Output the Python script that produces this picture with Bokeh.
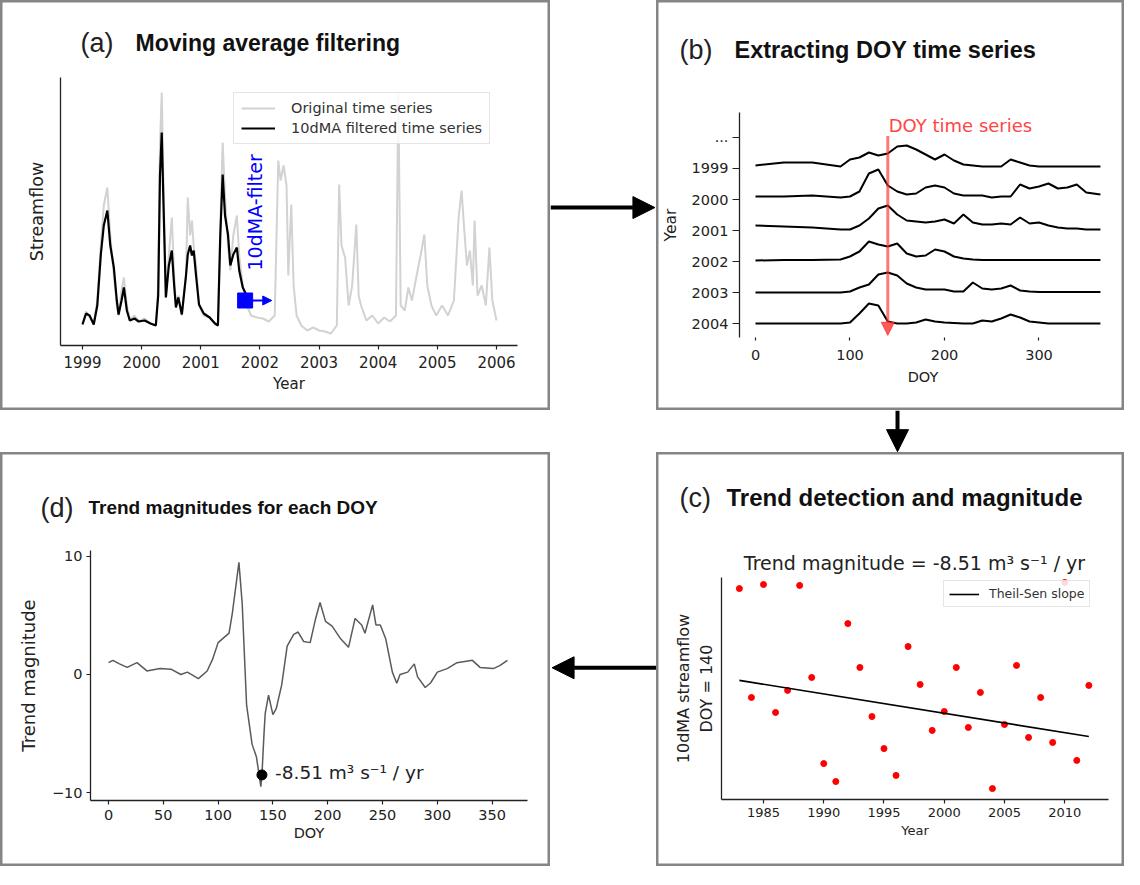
import math
from bokeh.plotting import figure
from bokeh.layouts import column, row
from bokeh.models import (Label, Arrow, NormalHead, Legend, LegendItem, FixedTicker, Spacer,
                          LinearAxis)
from bokeh.embed import file_html
from bokeh.resources import INLINE

# ---------------- data ----------------
# (a) streamflow time series (arbitrary units)
orig_year = [1999.00, 1999.06, 1999.12, 1999.19, 1999.25, 1999.31, 1999.36, 1999.42, 1999.47, 1999.53,
             1999.58, 1999.61, 1999.66, 1999.70, 1999.75, 1999.80, 1999.88, 1999.95, 2000.05, 2000.15,
             2000.24, 2000.28, 2000.31, 2000.34, 2000.37, 2000.41, 2000.46, 2000.51, 2000.55, 2000.58,
             2000.62, 2000.68, 2000.75, 2000.78, 2000.82, 2000.85, 2000.88, 2000.92, 2000.97, 2001.05,
             2001.15, 2001.24, 2001.29, 2001.33, 2001.37, 2001.41, 2001.46, 2001.50, 2001.55, 2001.61,
             2001.65, 2001.71, 2001.78, 2001.85, 2001.95, 2002.05, 2002.15, 2002.25, 2002.31, 2002.35,
             2002.40, 2002.45, 2002.48, 2002.53, 2002.57, 2002.62, 2002.70, 2002.80, 2002.90, 2003.00,
             2003.10, 2003.20, 2003.30, 2003.34, 2003.38, 2003.44, 2003.50, 2003.56, 2003.63, 2003.67,
             2003.71, 2003.80, 2003.90, 2004.00, 2004.10, 2004.20, 2004.30, 2004.34, 2004.38, 2004.45,
             2004.51, 2004.57, 2004.65, 2004.72, 2004.78, 2004.83, 2004.90, 2004.98, 2005.08, 2005.18,
             2005.28, 2005.36, 2005.41, 2005.45, 2005.50, 2005.55, 2005.60, 2005.63, 2005.68, 2005.75,
             2005.82, 2005.88, 2005.93, 2006.00]
orig_flow = [22, 34, 28, 22, 45, 100, 140, 158, 110, 70,
             40, 30, 55, 68, 40, 26, 30, 24, 27, 22,
             20, 60, 200, 253, 160, 48, 90, 128, 70, 40,
             50, 30, 70, 148, 110, 125, 100, 80, 40, 30,
             28, 22, 20, 120, 203, 150, 100, 75, 110, 130,
             90, 60, 40, 30, 28, 27, 24, 30, 185, 165,
             180, 160, 70, 141, 60, 30, 20, 15, 18, 15,
             14, 12, 20, 161, 100, 88, 40, 60, 121, 50,
             40, 25, 30, 22, 28, 24, 30, 253, 40, 35,
             58, 45, 70, 91, 111, 60, 40, 30, 40, 30,
             45, 128, 155, 120, 80, 95, 60, 125, 50, 60,
             40, 98, 45, 25]
filt_year = [1999.00, 1999.06, 1999.12, 1999.19, 1999.25, 1999.31, 1999.36, 1999.42, 1999.47, 1999.53,
             1999.58, 1999.61, 1999.66, 1999.70, 1999.75, 1999.80, 1999.88, 1999.95, 2000.05, 2000.15,
             2000.24, 2000.28, 2000.31, 2000.34, 2000.37, 2000.41, 2000.46, 2000.51, 2000.55, 2000.58,
             2000.62, 2000.68, 2000.75, 2000.78, 2000.82, 2000.85, 2000.88, 2000.92, 2000.97, 2001.05,
             2001.15, 2001.24, 2001.29, 2001.33, 2001.37, 2001.41, 2001.46, 2001.50, 2001.55, 2001.61,
             2001.65, 2001.71, 2001.76]
filt_flow = [21, 32, 30, 21, 40, 91, 120, 135, 100, 78,
             45, 31, 45, 58, 35, 25, 27, 24, 25, 22,
             20, 50, 170, 213, 140, 48, 80, 95, 60, 38,
             48, 31, 70, 91, 100, 90, 95, 70, 41, 32,
             28, 22, 20, 110, 171, 130, 111, 80, 91, 98,
             75, 58, 52]
a_year_ticks = [1999, 2000, 2001, 2002, 2003, 2004, 2005, 2006]
filter_marker_year = 2001.75
filter_marker_flow = 45
filter_arrow_end_year = 2002.2

# (b) DOY ridge curves (height of each year's curve)
doy_grid = [0, 30, 60, 90, 100, 110, 120, 130, 140, 150, 160, 170, 180, 190, 200, 210,
            220, 230, 240, 250, 260, 270, 280, 290, 300, 310, 320, 330, 340, 350, 365]
ridge_labels = ["2004", "2003", "2002", "2001", "2000", "1999", "..."]
flow_2004 = [0, 0, 0, 0, 1, 10, 20, 18, 2, 0, 0, 1, 4, 2, 1, 0.5,
             0, 0, 3, 2, 5, 9, 6, 2, 1, 0, 0, 0, 0, 0, 0]
flow_2003 = [0, 0, 0, 0, 1, 5, 8, 18, 20, 17, 9, 5, 3, 3, 3, 1,
             1, 10, 4, 3, 4, 7, 2, 1, 0.5, 0.5, 0.5, 0.5, 0.5, 0.5, 0.5]
flow_2002 = [1, 1.5, 1.5, 2, 5, 10, 20, 17, 15, 18, 8, 5, 6, 12, 10, 5,
             3, 2, 1.5, 1.5, 1.5, 1.5, 1.5, 1.5, 1.5, 1.5, 1.5, 1.5, 1.5, 1.5, 1.5]
flow_2001 = [5, 4, 3, 1, 1, 5, 12, 22, 25, 16, 10, 9, 8, 9, 11, 7,
             16, 8, 6, 6, 7, 6, 13, 7, 8, 5, 3, 2, 2, 1, 1]
flow_2000 = [3, 3, 4, 2, 3, 8, 26, 30, 14, 8, 5, 6, 12, 14, 12, 6,
             4, 4, 4, 2, 3, 3, 15, 11, 13, 16, 11, 12, 15, 7, 5]
flow_1999 = [3, 6, 6, 2, 9, 11, 16, 13, 15, 22, 23, 19, 14, 9, 14, 8,
             4, 3, 2, 2, 2, 9, 6, 3, 2, 2, 2, 2, 2, 2, 2]
ridge_flows = [flow_2004, flow_2003, flow_2002, flow_2001, flow_2000, flow_1999]
ridge_scale = 1 / 31.0
b_doy_ticks = [0, 100, 200, 300]
selected_doy = 140

# (c) 10dMA streamflow on DOY 140 for each year
c_years = [1983, 1984, 1985, 1986, 1987, 1988, 1989, 1990, 1991, 1992,
           1993, 1994, 1995, 1996, 1997, 1998, 1999, 2000, 2001, 2002,
           2003, 2004, 2005, 2006, 2007, 2008, 2009, 2010, 2011, 2012]
c_flow = [1128, 649, 1146, 583, 680, 1142, 737, 358, 279, 974,
          781, 565, 424, 306, 873, 706, 504, 587, 781, 517,
          671, 248, 530, 790, 473, 649, 451, 1155, 372, 702]
trend_years = [1983, 2012]
trend_flow = [724, 477]
c_year_ticks = [1985, 1990, 1995, 2000, 2005, 2010]

# (d) trend magnitude for each DOY
d_doy = [0, 4, 10, 17, 26, 35, 47, 57, 66, 72, 82, 90, 95, 100, 110, 113, 119, 122, 126, 131,
         135, 139, 140, 142, 143, 146, 150, 153, 158, 163, 169, 173, 178, 184, 189, 193, 198, 204,
         212, 219, 225, 231, 234, 241, 244, 248, 253, 259, 263, 266, 273, 279, 282, 289, 294, 300,
         309, 318, 332, 339, 351, 357, 364]
d_trend = [1.0, 1.2, 0.9, 0.6, 1.0, 0.3, 0.5, 0.45, 0.0, 0.2, -0.35, 0.3, 1.3, 2.7, 3.5, 5.2, 9.5, 6.0, -2.6, -5.9,
           -7.0, -9.5, -8.51, -4.8, -3.3, -1.75, -3.4, -2.9, -0.9, 2.4, 3.4, 3.6, 2.8, 2.7, 4.75, 6.1, 4.5, 4.1,
           3.0, 2.3, 4.75, 4.2, 3.5, 5.9, 4.2, 4.2, 3.0, 0.2, -0.75, 0.0, 0.2, 0.9, -0.2, -1.1, -0.7, 0.2,
           0.5, 1.0, 1.2, 0.6, 0.5, 0.75, 1.2]
d_doy_ticks = [0, 50, 100, 150, 200, 250, 300, 350]
d_mag_ticks = [-10, 0, 10]
min_doy = 140
min_trend = -8.51

# ---------------- style helpers ----------------
FONT = "DejaVu Sans"
TFONT = "Liberation Sans"
INK = "#222222"


def no_grid(p):
    for g in list(p.grid):
        g.visible = False
    p.xgrid.grid_line_color = None
    p.ygrid.grid_line_color = None


def panel_fig(w, h, xr, yr):
    # the frame fills the whole panel; its outline is the panel box
    p = figure(width=w, height=h, x_range=xr, y_range=yr, output_backend="svg",
               toolbar_location=None, x_axis_location=None, y_axis_location=None, title=None,
               min_border_left=0, min_border_right=0, min_border_top=0, min_border_bottom=0)
    no_grid(p)
    p.outline_line_color = "#858585"
    p.outline_line_width = 4
    p.background_fill_color = "white"
    return p


def add_axis(p, place, loc, bounds, ticks, label, tick_size, label_size,
             label_standoff=5, axis_label_standoff=5, tick_out=4, line=True, overrides=None):
    ax = LinearAxis(fixed_location=loc, bounds=bounds, ticker=FixedTicker(ticks=ticks),
                    axis_label=label)
    ax.axis_line_color = INK if line else None
    ax.axis_line_width = 1.3
    ax.major_tick_line_color = INK
    ax.major_tick_line_width = 1.2
    ax.major_tick_out = tick_out
    ax.major_tick_in = 0
    ax.minor_tick_line_color = None
    ax.major_label_text_font = FONT
    ax.major_label_text_font_size = tick_size
    ax.major_label_text_color = INK
    ax.major_label_standoff = label_standoff
    ax.axis_label_text_font = FONT
    ax.axis_label_text_font_size = label_size
    ax.axis_label_text_font_style = "normal"
    ax.axis_label_text_color = INK
    ax.axis_label_standoff = axis_label_standoff
    if overrides:
        ax.major_label_overrides = overrides
    p.add_layout(ax, place)
    return ax


def titles(p, tag, text, x_tag, x_text, y, bold_size):
    p.add_layout(Label(x=x_tag, y=y, x_units="screen", y_units="screen", text=tag,
                       text_font=TFONT, text_font_size="27px", text_color="#222",
                       text_baseline="middle"))
    p.add_layout(Label(x=x_text, y=y, x_units="screen", y_units="screen", text=text,
                       text_font=TFONT, text_font_size=bold_size, text_font_style="bold",
                       text_color="#111", text_baseline="middle"))


def style_legend(leg, size, gw):
    leg.label_text_font = FONT
    leg.label_text_font_size = size
    leg.label_text_color = "#333"
    leg.glyph_width = gw
    leg.glyph_height = 14
    leg.spacing = 4
    leg.padding = 6
    leg.margin = 0
    leg.label_standoff = 12
    leg.border_line_color = "#cccccc"
    leg.background_fill_alpha = 0.85


# ---------------- panel (a) ----------------
# layout: 59.14 px per year, 1999 at x=82 px; 1 unit per px, zero at y=345 px (of 410)
pa = panel_fig(550, 410, (1997.6135, 2006.9134), (-65, 345))
add_axis(pa, "below", 0, (1998.628, 2006.355), a_year_ticks, "Year", "15px", "15px",
         label_standoff=6, axis_label_standoff=4)
add_axis(pa, "left", 1998.628, (0, 268), [], "Streamflow", "13px", "17.5px",
         axis_label_standoff=14)
r_orig = pa.line(orig_year, orig_flow, color="#d2d2d2", line_width=2)
r_filt = pa.line(filt_year, filt_flow, color="black", line_width=2.2)
pa.scatter([filter_marker_year], [filter_marker_flow], marker="square", size=15, color="blue")
pa.add_layout(Arrow(end=NormalHead(size=9, fill_color="blue", line_color="blue"),
                    x_start=filter_marker_year, y_start=filter_marker_flow,
                    x_end=filter_arrow_end_year, y_end=filter_marker_flow,
                    line_color="blue", line_width=2))
pa.add_layout(Label(x=filter_marker_year + 0.16, y=filter_marker_flow + 30, text="10dMA-filter",
                    angle=math.pi / 2, text_color="blue", text_font=FONT,
                    text_font_size="19px", text_baseline="middle", text_align="left"))
leg_a = Legend(items=[LegendItem(label="Original time series", renderers=[r_orig]),
                      LegendItem(label="10dMA filtered time series", renderers=[r_filt])],
               location=(233, 266))
style_legend(leg_a, "14.5px", 34)
leg_a.label_standoff = 16
leg_a.padding = 7
pa.add_layout(leg_a)
titles(pa, "(a)", "Moving average filtering", 80, 135, 368, "23px")

# ---------------- panel (b) ----------------
# 0.945 px per DOY, DOY 0 at x=99 px; 31 px per ridge, first ridge at y=323 px (of 410)
pb = panel_fig(468, 410, (-104.76, 390.48), (-2.806, 10.419))
for i, vals in enumerate(ridge_flows):
    pb.line(doy_grid, [i + v * ridge_scale for v in vals], color="black", line_width=2)
add_axis(pb, "left", -16.93, (-0.452, 6.806), list(range(len(ridge_labels))), "Year",
         "14.5px", "15.5px", label_standoff=4, axis_label_standoff=9, tick_out=7,
         overrides={i: lab for i, lab in enumerate(ridge_labels)})
add_axis(pb, "below", -0.452, (-16.93, 371), b_doy_ticks, "DOY", "14.5px", "14.5px",
         label_standoff=9, axis_label_standoff=6, tick_out=3, line=False)
pb.add_layout(Arrow(end=NormalHead(size=13, fill_color="#ff3030", line_color="#ff3030",
                                   fill_alpha=0.8, line_alpha=0.8),
                    x_start=selected_doy, y_start=6.05, x_end=selected_doy, y_end=-0.38,
                    line_color="#ff3030", line_alpha=0.65, line_width=3))
pb.add_layout(Label(x=selected_doy + 1, y=6.38, text="DOY time series", text_color="#ff4545",
                    text_font=FONT, text_font_size="18px", text_baseline="middle"))
titles(pb, "(b)", "Extracting DOY time series", 23, 78, 361, "23.5px")

# ---------------- panel (c) ----------------
# 12.05 px per year, 1985 at x=107 px; 4.4 units per px, 200 at y=347 px (of 414)
pc = panel_fig(468, 414, (1976.12, 2014.96), (-94.8, 1726.8))
pc.scatter(c_years, c_flow, size=6, color="red")
r_trend = pc.line(trend_years, trend_flow, color="black", line_width=1.6)
add_axis(pc, "below", 200, (1981.51, 2013.63), c_year_ticks, "Year", "13px", "13px",
         label_standoff=4, axis_label_standoff=3)
add_axis(pc, "left", 1981.51, (200, 1176.8), [], "10dMA streamflow\nDOY = 140", "12px", "16px",
         axis_label_standoff=6)
leg_c = Legend(items=[LegendItem(label="Theil-Sen slope", renderers=[r_trend])],
               location=(287, 259))
style_legend(leg_c, "12.5px", 30)
leg_c.padding = 5
leg_c.label_standoff = 10
pc.add_layout(leg_c)
pc.add_layout(Label(x=258, y=304, x_units="screen", y_units="screen",
                    text="Trend magnitude = -8.51 m\u00b3 s\u207b\u00b9 / yr", text_font=FONT,
                    text_font_size="19px", text_color="#222", text_align="center",
                    text_baseline="middle"))
titles(pc, "(c)", "Trend detection and magnitude", 23, 70, 369, "24px")

# ---------------- panel (d) ----------------
# 1.096 px per DOY, DOY 0 at x=108 px; 11.8 px per unit, zero at y=222 px (of 414)
pd_ = panel_fig(550, 414, (-98.54, 403.28), (-16.27, 18.81))
pd_.line(d_doy, d_trend, color="#5a5a5a", line_width=1.5)
pd_.scatter([min_doy], [min_trend], size=10, color="black")
pd_.add_layout(Label(x=min_doy + 12, y=min_trend + 0.2,
                     text="-8.51 m\u00b3 s\u207b\u00b9 / yr", text_font=FONT,
                     text_font_size="18.5px", text_color="#222", text_baseline="middle"))
add_axis(pd_, "below", -10.68, (-16.4, 382.3), d_doy_ticks, "DOY", "14.5px", "14.5px",
         label_standoff=5, axis_label_standoff=2)
add_axis(pd_, "left", -16.4, (-10.68, 10.5), d_mag_ticks, "Trend magnitude", "14.5px", "18px",
         label_standoff=4, axis_label_standoff=10,
         overrides={-10: "\u221210", 0: "0", 10: "10"})
titles(pd_, "(d)", "Trend magnitudes for each DOY", 40, 88, 359, "19px")


# ---------------- connecting arrows ----------------
def arrow_fig(w, h, xs, ys, xe, ye):
    f = figure(width=w, height=h, x_range=(0, 1), y_range=(0, 1), output_backend="svg",
               toolbar_location=None, x_axis_location=None, y_axis_location=None, title=None,
               min_border_left=0, min_border_right=0, min_border_top=0, min_border_bottom=0)
    no_grid(f)
    f.outline_line_color = None
    f.add_layout(Arrow(end=NormalHead(size=22, fill_color="black", line_color="black"),
                       x_start=xs, y_start=ys, x_end=xe, y_end=ye,
                       line_color="black", line_width=4))
    return f


arr_ab = arrow_fig(106, 410, 0.0, 0.495, 0.985, 0.495)
arr_bc = arrow_fig(468, 42, 0.515, 1.0, 0.515, 0.02)
arr_cd = arrow_fig(106, 414, 1.0, 0.48, 0.015, 0.48)

layout = column(
    row(pa, arr_ab, pb),
    row(Spacer(width=656, height=42), arr_bc),
    row(pd_, arr_cd, pc),
)

open("out.html", "w").write(file_html(layout, INLINE))
